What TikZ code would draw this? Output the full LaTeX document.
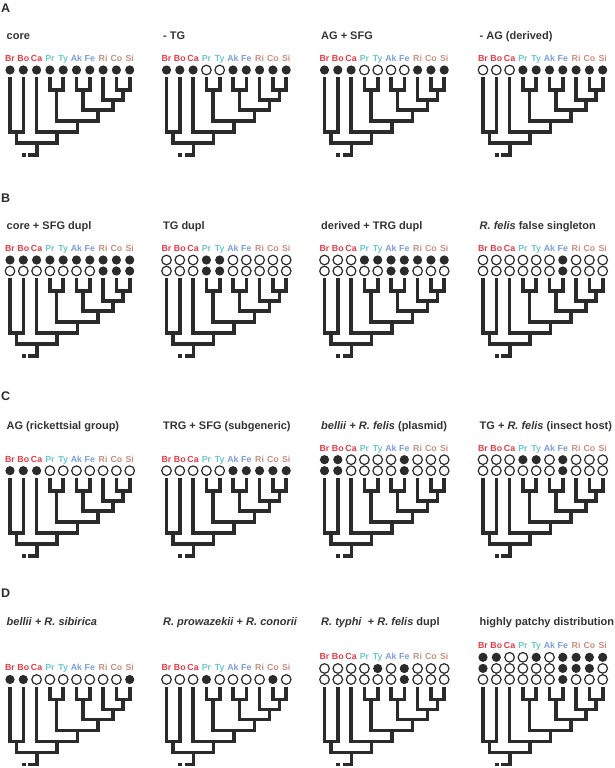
\documentclass[tikz,border=0pt]{standalone}
\usepackage{fontspec}
\setmainfont{Liberation Sans}
\usepackage{tikz}

\definecolor{ink}{HTML}{2B2B2B}
\definecolor{titlegray}{HTML}{333333}
\definecolor{cagr}{HTML}{EA3A45}
\definecolor{tygr}{HTML}{6CC7CB}
\definecolor{trgr}{HTML}{7B9DD8}
\definecolor{sfgr}{HTML}{C8907F}

% spacing of the tips
\newcommand{\tipdx}{13.3}

% taxon labels above the top row of dots
\newcommand{\taxa}[3]{%
  \foreach \tn/\tc [count=\i from 0] in {Br/cagr,Bo/cagr,Ca/cagr,Pr/tygr,Ty/tygr,Ak/trgr,Fe/trgr,Ri/sfgr,Co/sfgr,Si/sfgr}
    \node[taxon, text=\tc] (#1-\tn) at ({#2+\i*\tipdx},{#3}) {\tn};
}

% one row of presence (1) / absence (0) dots
\newcommand{\dotrow}[4]{%
  \foreach \st [count=\i from 0] in {#4}
    \node[dot\st] (#1-\i) at ({#2+\i*\tipdx},{#3}) {};
}

% the cladogram under the dots
\newcommand{\cladetree}[3]{%
  \foreach \i in {0,...,9}
    \coordinate (#1-t\i) at ({#2+\i*\tipdx},{#3+7});
  \coordinate (#1-n1) at ({#2+3.5*\tipdx},{#3+20});
  \coordinate (#1-n2) at ({#2+5.5*\tipdx},{#3+20});
  \coordinate (#1-n3) at ({#2+8.5*\tipdx},{#3+20});
  \coordinate (#1-n4) at ({#2+7.75*\tipdx},{#3+30});
  \coordinate (#1-n5) at ({#2+6.625*\tipdx},{#3+40});
  \coordinate (#1-n6) at ({#2+5.0625*\tipdx},{#3+51});
  \coordinate (#1-n7) at ({#2+3.53*\tipdx},{#3+62});
  \coordinate (#1-n8) at ({#2+0.5*\tipdx},{#3+62});
  \coordinate (#1-n9) at ({#2+2.016*\tipdx},{#3+73});
  \coordinate (#1-s1) at ({#2+2.016*\tipdx-8.5},{#3+85});
  \coordinate (#1-s2) at ({#2+2.016*\tipdx-11.3},{#3+85});
  \coordinate (#1-s3) at ({#2+2.016*\tipdx-15.3},{#3+85});
  \draw[branch] (#1-t3) |- (#1-n1) -| (#1-t4);
  \draw[branch] (#1-t5) |- (#1-n2) -| (#1-t6);
  \draw[branch] (#1-t8) |- (#1-n3) -| (#1-t9);
  \draw[branch] (#1-t7) |- (#1-n4) -| (#1-n3);
  \draw[branch] (#1-n2) |- (#1-n5) -| (#1-n4);
  \draw[branch] (#1-n1) |- (#1-n6) -| (#1-n5);
  \draw[branch] (#1-t2) |- (#1-n7) -| (#1-n6);
  \draw[branch] (#1-t0) |- (#1-n8) -| (#1-t1);
  \draw[branch] (#1-n8) |- (#1-n9) -| (#1-n7);
  \draw[branch] (#1-n9) |- (#1-s1);
  \draw[branch] (#1-s2) -- (#1-s3);
}

\begin{document}
\begin{tikzpicture}[x=1pt, y=-1pt,
  branch/.style={draw=ink, line width=3.6pt, line join=miter},
  dot1/.style={circle, fill=ink, minimum size=9.2pt, inner sep=0pt},
  dot0/.style={circle, draw=ink, fill=white, line width=1.2pt, minimum size=9.6pt, inner sep=0pt},
  taxon/.style={anchor=base, inner sep=0pt, font=\bfseries\fontsize{8.8}{10}\selectfont},
  title/.style={anchor=base west, inner sep=0pt, text=titlegray, font=\bfseries\fontsize{11}{13}\selectfont},
  letter/.style={anchor=base west, inner sep=0pt, text=ink, font=\bfseries\fontsize{12.5}{15}\selectfont}]
  \useasboundingbox (0,0) rectangle (615,768);

  % A
  \node[letter] (lA) at (1,12.7) {A};
  \node[title] (a1) at (6.5,39.5) {core};
  \taxa{a1}{10}{61.7}
  \dotrow{a1-r1}{10}{70}{1,1,1,1,1,1,1,1,1,1}
  \cladetree{a1}{10}{70}
  \node[title] (a2) at (163,39.5) {- TG};
  \taxa{a2}{166.5}{61.7}
  \dotrow{a2-r1}{166.5}{70}{1,1,1,0,0,1,1,1,1,1}
  \cladetree{a2}{166.5}{70}
  \node[title] (a3) at (321,39.5) {AG + SFG};
  \taxa{a3}{324.5}{61.7}
  \dotrow{a3-r1}{324.5}{70}{1,1,1,0,0,0,0,1,1,1}
  \cladetree{a3}{324.5}{70}
  \node[title] (a4) at (479.5,39.5) {- AG (derived)};
  \taxa{a4}{483}{61.7}
  \dotrow{a4-r1}{483}{70}{0,0,0,1,1,1,1,1,1,1}
  \cladetree{a4}{483}{70}

  % B
  \node[letter] (lB) at (1,202.3) {B};
  \node[title] (b1) at (6.5,229.5) {core + SFG dupl};
  \taxa{b1}{10}{251.4}
  \dotrow{b1-r1}{10}{260}{1,1,1,1,1,1,1,1,1,1}
  \dotrow{b1-r2}{10}{271}{0,0,0,0,0,0,0,1,1,1}
  \cladetree{b1}{10}{271}
  \node[title] (b2) at (163,229.5) {TG dupl};
  \taxa{b2}{166.5}{251.4}
  \dotrow{b2-r1}{166.5}{260}{0,0,0,1,1,0,0,0,0,0}
  \dotrow{b2-r2}{166.5}{271}{0,0,0,1,1,0,0,0,0,0}
  \cladetree{b2}{166.5}{271}
  \node[title] (b3) at (321,229.5) {derived + TRG dupl};
  \taxa{b3}{324.5}{251.4}
  \dotrow{b3-r1}{324.5}{260}{0,0,0,1,1,1,1,1,1,1}
  \dotrow{b3-r2}{324.5}{271}{0,0,0,0,0,1,1,0,0,0}
  \cladetree{b3}{324.5}{271}
  \node[title] (b4) at (479.5,229.5) {\textit{R. felis} false singleton};
  \taxa{b4}{483}{251.4}
  \dotrow{b4-r1}{483}{260}{0,0,0,0,0,0,1,0,0,0}
  \dotrow{b4-r2}{483}{271}{0,0,0,0,0,0,1,0,0,0}
  \cladetree{b4}{483}{271}

  % C
  \node[letter] (lC) at (1,400) {C};
  \node[title] (c1) at (6.5,429.5) {AG (rickettsial group)};
  \taxa{c1}{10}{462.1}
  \dotrow{c1-r1}{10}{470.7}{1,1,1,0,0,0,0,0,0,0}
  \cladetree{c1}{10}{470.7}
  \node[title] (c2) at (163,429.5) {TRG + SFG (subgeneric)};
  \taxa{c2}{166.5}{462.1}
  \dotrow{c2-r1}{166.5}{470.7}{0,0,0,0,0,1,1,1,1,1}
  \cladetree{c2}{166.5}{470.7}
  \node[title] (c3) at (321,429.5) {\textit{bellii} + \textit{R. felis} (plasmid)};
  \taxa{c3}{324.5}{451.1}
  \dotrow{c3-r1}{324.5}{459.7}{1,1,0,0,0,0,1,0,0,0}
  \dotrow{c3-r2}{324.5}{470.7}{1,1,0,0,0,0,1,0,0,0}
  \cladetree{c3}{324.5}{470.7}
  \node[title] (c4) at (479.5,429.5) {TG + \textit{R. felis} (insect host)};
  \taxa{c4}{483}{451.1}
  \dotrow{c4-r1}{483}{459.7}{0,0,0,1,1,0,1,0,0,0}
  \dotrow{c4-r2}{483}{470.7}{0,0,0,0,0,0,1,0,0,0}
  \cladetree{c4}{483}{470.7}

  % D
  \node[letter] (lD) at (1,597.7) {D};
  \node[title] (d1) at (6.5,625.3) {\textit{bellii} + \textit{R. sibirica}};
  \taxa{d1}{10}{670.9}
  \dotrow{d1-r1}{10}{679.5}{1,1,0,0,0,0,0,0,0,1}
  \cladetree{d1}{10}{679.5}
  \node[title] (d2) at (163,625.3) {\textit{R. prowazekii} + \textit{R. conorii}};
  \taxa{d2}{166.5}{670.9}
  \dotrow{d2-r1}{166.5}{679.5}{0,0,0,1,0,0,0,0,1,0}
  \cladetree{d2}{166.5}{679.5}
  \node[title] (d3) at (321,625.3) {\textit{R. typhi}\ \ + \textit{R. felis} dupl};
  \taxa{d3}{324.5}{659.9}
  \dotrow{d3-r1}{324.5}{668.5}{0,0,0,0,1,0,1,0,0,0}
  \dotrow{d3-r2}{324.5}{679.5}{0,0,0,0,0,0,1,0,0,0}
  \cladetree{d3}{324.5}{679.5}
  \node[title] (d4) at (479.5,625.3) {highly patchy distribution};
  \taxa{d4}{483}{648.7}
  \dotrow{d4-r1}{483}{657.3}{1,1,0,0,1,0,1,1,1,1}
  \dotrow{d4-r2}{483}{668.4}{1,0,0,0,0,0,1,1,1,0}
  \dotrow{d4-r3}{483}{679.5}{0,0,0,0,0,0,1,0,0,0}
  \cladetree{d4}{483}{679.5}
\end{tikzpicture}
\end{document}
